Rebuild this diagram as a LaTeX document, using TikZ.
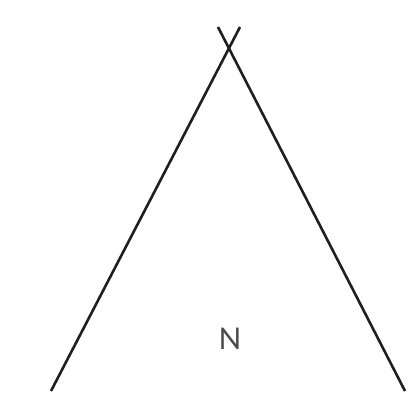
\documentclass[tikz,border=0pt]{standalone}
\usepackage{fontspec}
\setmainfont{Lato}
\begin{document}
\begin{tikzpicture}[x=1bp,y=-1bp,
  stroke/.style={draw=black!88,line width=2.6bp},
  lbl/.style={text=black!70,font=\fontsize{30}{30}\selectfont,inner sep=0pt}]
\useasboundingbox (0,0) rectangle (415,405);
\coordinate (a1) at (51,391);
\coordinate (a2) at (240,27);
\coordinate (b1) at (218,27);
\coordinate (b2) at (405,391);
\draw[stroke] (a1) -- (a2);
\draw[stroke] (b1) -- (b2);
\node[lbl] (n) at (230,339) {N};
\end{tikzpicture}
\end{document}
